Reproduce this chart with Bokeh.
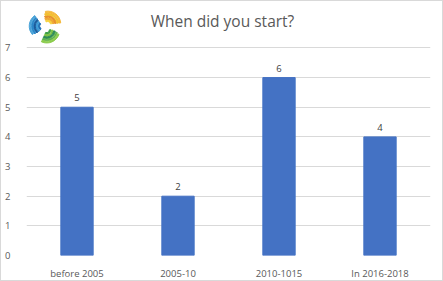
import math
from bokeh.plotting import figure
from bokeh.models import Range1d, FixedTicker
from bokeh.core.properties import value
from bokeh.embed import file_html
from bokeh.resources import INLINE

categories = ["before 2005", "2005-10", "2010-1015", "In 2016-2018"]
counts = [5, 2, 6, 4]
y_ticks = [0, 1, 2, 3, 4, 5, 6, 7]
title_text = "When did you start?"

FONT = "Open Sans"
TXT = "#595959"

xs = [i + 0.5 for i in range(len(categories))]

p = figure(width=443, height=281, x_range=Range1d(0, len(categories)), y_range=Range1d(0, 8.43),
           output_backend="svg", toolbar_location=None,
           min_border_left=25, min_border_right=14, min_border_top=4, min_border_bottom=22)
p.outline_line_color = None
p.background_fill_color = "white"
p.border_fill_color = "white"
p.styles = {"border": "1px solid #d9d9d9", "box-sizing": "border-box"}

p.vbar(x=xs, top=counts, width=0.32, color="#4472C4")
p.text(x=xs, y=counts, text=[str(v) for v in counts], text_align="center",
       text_baseline="bottom", y_offset=-6, text_font=value(FONT),
       text_font_size="9.5px", text_color="#404040")

p.xaxis.ticker = FixedTicker(ticks=xs)
p.xaxis.major_label_overrides = {x: c for x, c in zip(xs, categories)}
p.yaxis.ticker = FixedTicker(ticks=y_ticks)
p.ygrid.ticker = FixedTicker(ticks=y_ticks)
p.ygrid.grid_line_color = "#d9d9d9"
p.xgrid.grid_line_color = None
for ax in (p.xaxis[0], p.yaxis[0]):
    ax.axis_line_color = None
    ax.major_tick_line_color = None
    ax.minor_tick_line_color = None
    ax.major_label_text_font = FONT
    ax.major_label_text_color = TXT
    ax.major_label_text_font_size = "9.5px"
p.yaxis.major_label_standoff = 10
p.xaxis.major_label_standoff = 5

# pixel-space ranges for title and logo (y as negative pixels so angles stay standard)
p.extra_x_ranges = {"px": Range1d(26, 428)}
p.extra_y_ranges = {"py": Range1d(-254, -7)}
p.text(x=[221], y=[-22], text=[title_text], text_align="center", text_baseline="middle",
       text_font=value(FONT), text_font_size="15.5px", text_color=TXT,
       x_range_name="px", y_range_name="py")

# logo: three swirl groups of curved strokes
cx, cy = 45, -28
groups = [(["#f7d23a", "#f0a830", "#e8912d", "#f2c12e", "#f5b93a"], 50),
          (["#1f6fb5", "#3b9bd6", "#1a5d9e", "#2a86c8", "#4aa3d8"], 170),
          (["#3e9e45", "#7cc242", "#2e8b57", "#5db14f", "#8ccc4e"], 290)]
for cols, phi in groups:
    ox = cx + 3.5 * math.cos(math.radians(phi))
    oy = cy + 3.5 * math.sin(math.radians(phi))
    for i, r in enumerate([2.5, 4.7, 6.9, 9.1, 11.3]):
        p.annular_wedge(x=[ox], y=[oy], inner_radius=r, outer_radius=r + 1.6,
                        inner_radius_units="screen", outer_radius_units="screen",
                        start_angle=math.radians(phi - 45), end_angle=math.radians(phi + 75 - i * 6),
                        color=cols[i], x_range_name="px", y_range_name="py")

open("out.html", "w").write(file_html(p, INLINE))
